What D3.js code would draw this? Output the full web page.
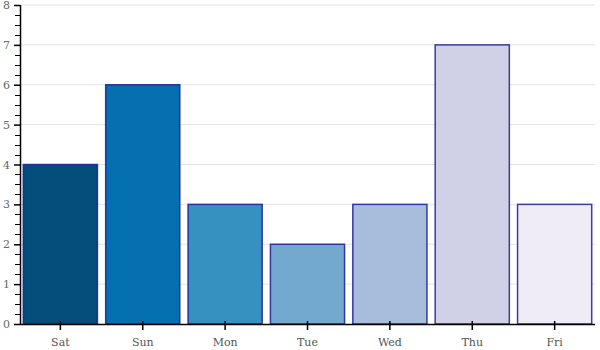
<!DOCTYPE html>
<html><head><meta charset="utf-8">
<script src="https://cdn.jsdelivr.net/npm/d3@7"></script>
<style>body{margin:0;background:#fff}svg{display:block}</style>
</head><body>
<svg id="c" width="600" height="350"></svg>
<script>
const categories = ["Sat","Sun","Mon","Tue","Wed","Thu","Fri"];
const values = [4,6,3,2,3,7,3];
const colors = ["#034e7b","#0570b0","#3690c0","#74a9cf","#a6bddb","#d0d1e6","#f0ecf6"];
const yTicks = [0,1,2,3,4,5,6,7,8];

(function () {
const svg = d3.select("#c");
const mLeft = 20, mRight = 595, mTop = 5, mBottom = 324;
const x = d3.scaleBand().domain(categories).range([mLeft, mRight]).paddingInner(0.1).paddingOuter(0.04);
const y = d3.scaleLinear().domain([0, 8]).range([mBottom, mTop]);

// grid
svg.append("g").selectAll("line").data(yTicks.slice(1)).join("line")
  .attr("x1", mLeft).attr("x2", mRight)
  .attr("y1", d => y(d)).attr("y2", d => y(d))
  .attr("stroke", "#e3e3e3").attr("stroke-width", 1);

// bars
svg.append("g").selectAll("rect").data(values).join("rect")
  .attr("x", (d, i) => x(categories[i]))
  .attr("y", d => y(d))
  .attr("width", x.bandwidth())
  .attr("height", d => y(0) - y(d))
  .attr("fill", (d, i) => colors[i])
  .attr("stroke", "#1c1c96").attr("stroke-opacity", 0.85).attr("stroke-width", 1.5);

// y axis
const yAxis = svg.append("g").attr("transform", `translate(${mLeft},0)`)
  .call(d3.axisLeft(y).tickValues(yTicks).tickFormat(d3.format("d")).tickSize(6).tickPadding(4));
yAxis.select(".domain").attr("stroke", "#000").attr("stroke-width", 1.5).attr("d", `M0.5,${mTop}V${mBottom}`);
yAxis.selectAll(".tick line").attr("stroke", "#000").attr("stroke-width", 1.5);
yAxis.selectAll(".tick text").attr("fill", "#666").style("font-family", "DejaVu Serif").style("font-size", "11px");
// minor ticks
const minor = d3.range(0, 8, 0.25).filter(v => v % 1 !== 0);
svg.append("g").selectAll("line").data(minor).join("line")
  .attr("x1", mLeft - 5).attr("x2", mLeft)
  .attr("y1", d => Math.round(y(d)) + 0.5).attr("y2", d => Math.round(y(d)) + 0.5)
  .attr("stroke", "#000").attr("stroke-width", 1);

// x axis
const xAxis = svg.append("g").attr("transform", `translate(0,${mBottom})`)
  .call(d3.axisBottom(x).tickSize(6).tickPadding(8));
xAxis.select(".domain").attr("stroke", "#000").attr("stroke-width", 1.5).attr("d", `M${mLeft},0.5H${mRight}`);
xAxis.selectAll(".tick line").attr("stroke", "#000").attr("stroke-width", 1.5).attr("y1", -3).attr("y2", 6);
xAxis.selectAll(".tick text").attr("fill", "#555").style("font-family", "DejaVu Serif").style("font-size", "11px");
})();
</script>
</body></html>
